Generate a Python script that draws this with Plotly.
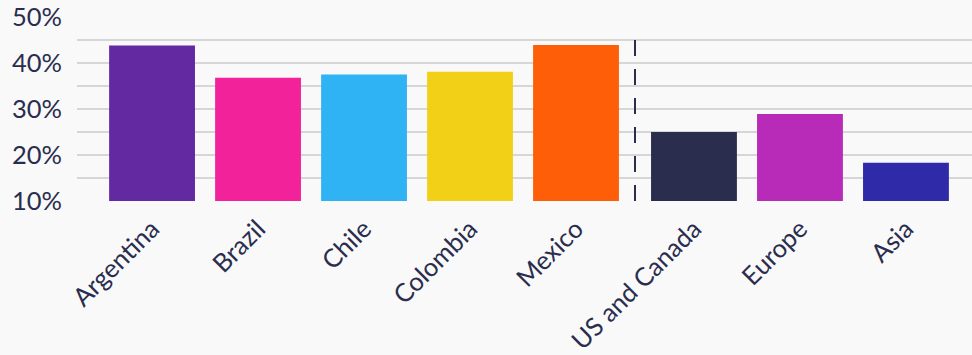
import plotly.graph_objects as go

categories = ["Argentina", "Brazil", "Chile", "Colombia", "Mexico",
              "US and Canada", "Europe", "Asia"]
groups = ["LatAm", "LatAm", "LatAm", "LatAm", "LatAm", "Other", "Other", "Other"]
values = [43.8, 36.8, 37.5, 38.1, 43.9, 25.0, 28.9, 18.3]
colors = ["#6229a0", "#f2229a", "#30b3f5", "#f2d018", "#ff5e08",
          "#2a2d4e", "#b82ab8", "#2e2aa8"]
y_ticks = [10, 20, 30, 40, 50]
y_ticktext = ["10%", "20%", "30%", "40%", "50%"]

GAP = 0.113
TEXT = "#2a2d4e"

# x positions derived from category index plus a gap between groups
xs = []
for i, g in enumerate(groups):
    xs.append(i + (GAP if g != groups[0] else 0))
split = (xs[4] + xs[5]) / 2

fig = go.Figure()
fig.add_trace(go.Bar(
    x=xs, y=values, marker=dict(color=colors, line=dict(width=0)),
    width=0.81, showlegend=False, hoverinfo="skip",
))

fig.add_shape(type="line", xref="x", yref="y", x0=split, x1=split, y0=10, y1=45.45,
              line=dict(color=TEXT, width=2, dash="16px,13px"), layer="above")

fig.update_layout(
    width=972, height=355,
    margin=dict(l=77, r=0, t=17, b=154),
    paper_bgcolor="#f9f9f9", plot_bgcolor="#f9f9f9",
    font=dict(family="Lato, sans-serif", color=TEXT, size=24),
    xaxis=dict(
        tickmode="array", tickvals=xs, ticktext=categories, tickangle=-45,
        range=[-0.708, xs[-1] + 0.623], showgrid=False, zeroline=False,
        showline=False, ticks="", ticklabelstandoff=7, automargin=False,
        tickfont=dict(size=25.5, color=TEXT),
    ),
    yaxis=dict(
        range=[10, 50], tickmode="array", tickvals=y_ticks, ticktext=y_ticktext,
        showgrid=True, gridcolor="#d6d6d6", gridwidth=2, zeroline=False,
        showline=False, ticks="", ticklabelstandoff=14, automargin=False,
        tickfont=dict(size=25.5, color=TEXT),
        minor=dict(dtick=5, tick0=10, showgrid=True, gridcolor="#d6d6d6", gridwidth=2),
    ),
    bargap=0.19,
)

fig.write_html("out.html")
